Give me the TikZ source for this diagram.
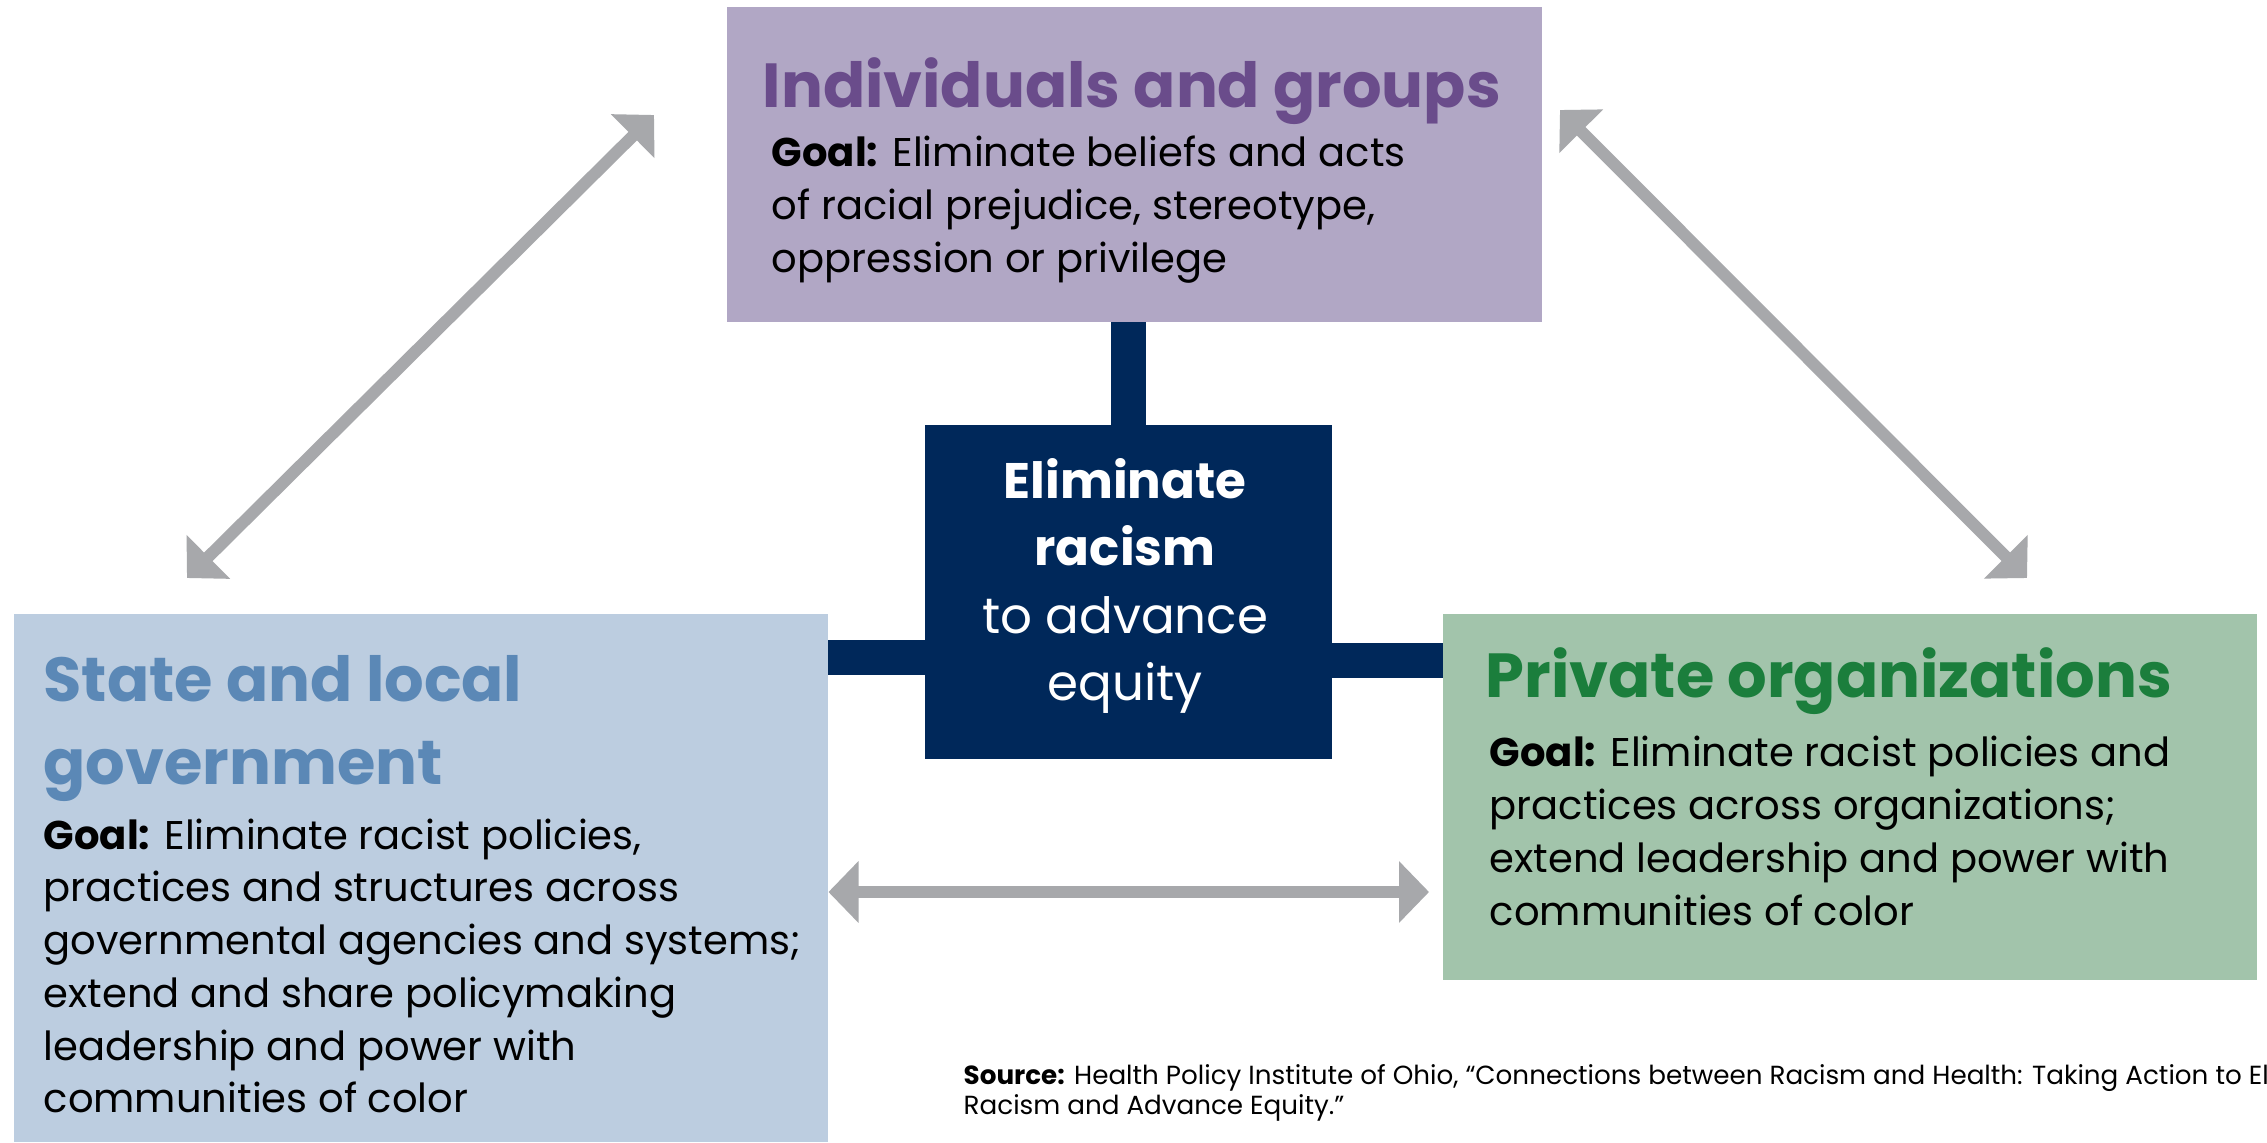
\documentclass[tikz,border=0pt]{standalone}
\usepackage{fontspec}
\setmainfont{Poppins}
\usetikzlibrary{arrows.meta}
\definecolor{purpfill}{HTML}{B1A7C5}
\definecolor{purptitle}{HTML}{6A4C8B}
\definecolor{bluefill}{HTML}{BCCDE0}
\definecolor{bluetitle}{HTML}{5B88B6}
\definecolor{greenfill}{HTML}{A2C4AB}
\definecolor{greentitle}{HTML}{1B7E3C}
\definecolor{navy}{HTML}{00285A}
\definecolor{arrowgray}{HTML}{A7A8AB}
\newcommand{\leftlines}[1]{\begin{tabular}[t]{@{}l@{}}#1\end{tabular}}
\newcommand{\centerlines}[1]{\begin{tabular}[t]{@{}c@{}}#1\end{tabular}}
\begin{document}
\begin{tikzpicture}[x=0.01cm,y=-0.01cm,
  box/.style={draw=none,inner sep=0,outer sep=0,anchor=north west},
  titletext/.style={anchor=base west,inner sep=0,font=\fontsize{17.7pt}{23.6pt}\selectfont\bfseries},
  bodytext/.style={anchor=base west,inner sep=0,font=\fontsize{11.4pt}{15.1pt}\selectfont},
  link/.style={arrowgray,line width=0.12cm,{Triangle[length=0.3cm,width=0.6cm]}-{Triangle[length=0.3cm,width=0.6cm]}},
  stub/.style={navy,line width=0.35cm}
]
\useasboundingbox[fill=white] (0,0) rectangle (2267,1142);
% boxes
\node[box,fill=purpfill,minimum width=8.15cm,minimum height=3.15cm] (ind) at (727,7) {};
\node[box,fill=navy,minimum width=4.07cm,minimum height=3.34cm] (ctr) at (925,425) {};
\node[box,fill=bluefill,minimum width=8.14cm,minimum height=5.28cm] (gov) at (14,614) {};
\node[box,fill=greenfill,minimum width=8.13cm,minimum height=3.66cm] (priv) at (1443,614) {};
% stubs
\coordinate (ly) at (0,657);
\coordinate (ry) at (0,660);
\draw[stub] (ctr.north) -- (ctr.north |- ind.south);
\draw[stub] (gov.east |- ly) -- (ctr.west |- ly);
\draw[stub] (ctr.east |- ry) -- (priv.west |- ry);
% arrows
\coordinate (a1) at (187,578);
\coordinate (a2) at (654,115);
\coordinate (b1) at (1560,110);
\coordinate (b2) at (2027,578);
\coordinate (cy) at (0,892);
\coordinate (c2) at (1429,892);
\draw[link] (a1) -- (a2);
\draw[link] (b1) -- (b2);
\draw[link] (gov.east |- cy) -- (c2);
% texts
\node[titletext,text=purptitle] (indT) at (762,107) {Individuals and groups};
\node[bodytext] (indB) at (771,166) {\leftlines{\textbf{Goal:} Eliminate beliefs and acts\\of racial prejudice, stereotype,\\oppression or privilege}};
\node[titletext,text=bluetitle] (govT) at (43,701) {\leftlines{State and local\\government}};
\node[bodytext,font=\fontsize{11.4pt}{15.0pt}\selectfont] (govB) at (43,849) {\leftlines{\textbf{Goal:} Eliminate racist policies,\\practices and structures across\\governmental agencies and systems;\\extend and share policymaking\\leadership and power with\\communities of color}};
\node[titletext,text=greentitle] (privT) at (1485,697) {Private organizations};
\node[bodytext] (privB) at (1489,766) {\leftlines{\textbf{Goal:} Eliminate racist policies and\\practices across organizations;\\extend leadership and power with\\communities of color}};
\node[anchor=base,inner sep=0,text=white,font=\fontsize{14.2pt}{19.2pt}\selectfont] (ctrT) at (1125,498) {\centerlines{\textbf{Eliminate}\\\textbf{racism}\\to advance\\equity}};
\node[anchor=base west,inner sep=0,font=\fontsize{7.45pt}{8.8pt}\selectfont] (src) at (963,1084) {\leftlines{\textbf{Source:} Health Policy Institute of Ohio, “Connections between Racism and Health: Taking Action to Eliminate\\Racism and Advance Equity.”}};
\end{tikzpicture}
\end{document}
